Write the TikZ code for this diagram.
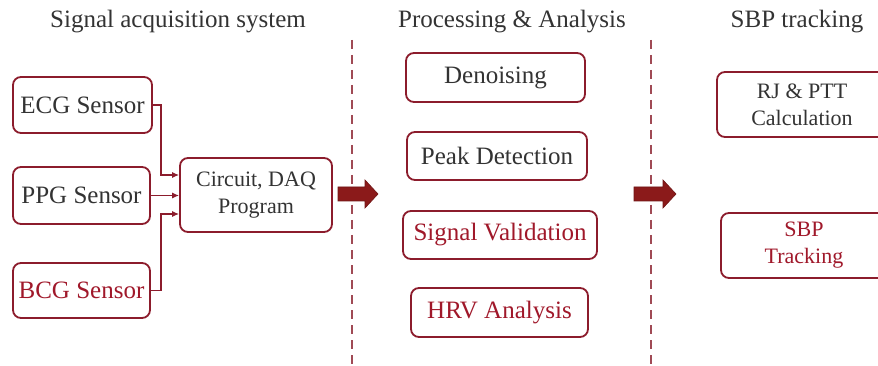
\documentclass[tikz,border=0pt]{standalone}
\usepackage{fontspec}
\setmainfont{LiberationSerif}[Extension=.ttf, UprightFont=*-Regular, BoldFont=*-Bold, ItalicFont=*-Italic, BoldItalicFont=*-BoldItalic]
\usetikzlibrary{arrows.meta}
\definecolor{bred}{HTML}{8C1C2C}
\definecolor{tred}{HTML}{A0182A}
\definecolor{tdark}{HTML}{333333}
\definecolor{dashc}{HTML}{A04A55}
\definecolor{fatred}{HTML}{8B1A1A}
\begin{document}
\begin{tikzpicture}[x=1pt,y=-1pt,
  box/.style={draw=bred, line width=1.8pt, rounded corners=8pt, fill=white, inner sep=0pt, align=center, text=tdark},
  big/.style={font=\rmfamily\fontsize{25}{29}\selectfont},
  small/.style={font=\rmfamily\fontsize{22}{27}\selectfont},
  title/.style={font=\rmfamily\fontsize{25}{29}\selectfont, text=tdark, inner sep=0pt},
  conn/.style={draw=bred, line width=1.2pt, -{Latex[length=7pt,width=6pt]}},
  sep/.style={draw=dashc, line width=1.3pt, dash pattern=on 9pt off 6pt},
  fat/.style={fill=fatred, draw=fatred!80!black, line width=0.6pt}
]
\clip (0,0) rectangle (878,366);
\fill[white] (0,0) rectangle (878,366);

% titles
\node[title] (t1) at (178,22) {Signal acquisition system};
\node[title] (t2) at (512,22) {Processing \& Analysis};
\node[title] (t3) at (797,22) {SBP tracking};

% separators
\coordinate (s1a) at (352,40); \coordinate (s1b) at (352,366);
\coordinate (s2a) at (651,40); \coordinate (s2b) at (651,366);
\draw[sep] (s1a) -- (s1b);
\draw[sep] (s2a) -- (s2b);

% left column
\node[box, big, minimum width=139pt, minimum height=56pt] (ecg) at (82.5,105) {ECG Sensor};
\node[box, big, minimum width=137pt, minimum height=57pt] (ppg) at (81.5,195.5) {PPG Sensor};
\node[box, big, minimum width=137pt, minimum height=55pt, text=tred] (bcg) at (81.5,290.5) {BCG Sensor};
\node[box, small, minimum width=152pt, minimum height=74pt] (circ) at (256,195) {Circuit, DAQ\\Program};

\draw[conn] (ecg.east) -- ++(8,0) |- ([yshift=20pt]circ.west);
\draw[conn] (ppg.east) -- (ppg.east -| circ.west);
\draw[conn] (bcg.east) -- ++(10,0) |- ([yshift=-19pt]circ.west);

% middle column
\node[box, big, minimum width=179pt, minimum height=49pt] (den) at (495.5,77.5) {Denoising};
\node[box, big, minimum width=180pt, minimum height=48pt] (peak) at (497,156) {Peak Detection};
\node[box, big, minimum width=194pt, minimum height=48pt, text=tred] (val) at (500,235) {Signal Validation};
\node[box, big, minimum width=177pt, minimum height=49pt, text=tred] (hrv) at (499.5,312.5) {HRV Analysis};

% right column
\node[box, small, minimum width=170pt, minimum height=65pt] (rj) at (802,104.5) {RJ \& PTT\\Calculation};
\node[box, small, minimum width=166pt, minimum height=65pt, text=tred] (sbp) at (804,245.5) {SBP\\Tracking};

% fat arrows
\fill[fat] (338,187) -- (365,187) -- (365,180) -- (378,194) -- (365,208) -- (365,201) -- (338,201) -- cycle;
\fill[fat] (634,187) -- (663,187) -- (663,180) -- (676,194) -- (663,208) -- (663,201) -- (634,201) -- cycle;
\end{tikzpicture}
\end{document}
